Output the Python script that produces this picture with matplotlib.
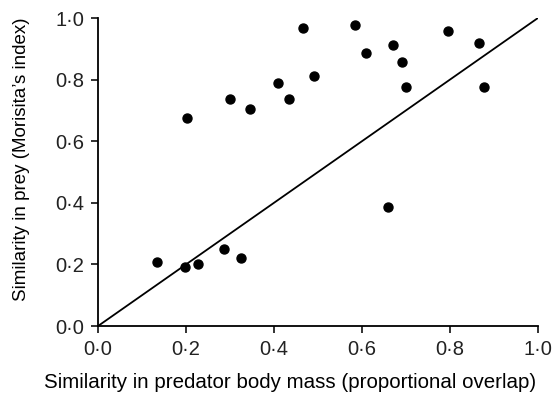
import matplotlib
matplotlib.use("Agg")
import matplotlib.pyplot as plt
from matplotlib.ticker import FuncFormatter

plt.rcParams['font.family'] = ['Liberation Sans', 'DejaVu Sans']

# predator body mass overlap vs prey similarity (Morisita)
body_mass = [0.133, 0.198, 0.227, 0.286, 0.324, 0.202, 0.300, 0.345, 0.410,
             0.434, 0.465, 0.492, 0.583, 0.608, 0.659, 0.671, 0.691, 0.699,
             0.796, 0.866, 0.877]
prey_sim = [0.209, 0.190, 0.200, 0.250, 0.220, 0.676, 0.737, 0.705, 0.788,
            0.736, 0.966, 0.813, 0.976, 0.885, 0.387, 0.912, 0.857, 0.777,
            0.959, 0.919, 0.777]
ticks = [0.0, 0.2, 0.4, 0.6, 0.8, 1.0]

fig = plt.figure(figsize=(5.54, 4.0), dpi=100)
ax = fig.add_axes([0.177, 0.185, 0.794, 0.77])

ax.plot([0, 1], [0, 1], color="black", lw=1.3, zorder=1)
ax.scatter(body_mass, prey_sim, s=42, color="black", zorder=2, clip_on=False)

ax.set_xlim(0, 1)
ax.set_ylim(0, 1)
ax.set_xticks(ticks)
ax.set_yticks(ticks)
fmt = FuncFormatter(lambda v, p: f"{v:.1f}".replace(".", "·"))
ax.xaxis.set_major_formatter(fmt)
ax.yaxis.set_major_formatter(fmt)

for s in ["top", "right"]:
    ax.spines[s].set_visible(False)
for s in ["left", "bottom"]:
    ax.spines[s].set_linewidth(1.3)
ax.tick_params(direction="out", length=5, width=1.3, labelsize=14.5, colors="#222222", pad=5)

# labels sit off-centre in the original
ax.set_xlabel("Similarity in predator body mass (proportional overlap)", fontsize=14.8,
              labelpad=10, x=0.436)
ax.set_ylabel("Similarity in prey (Morisita\u2019s index)", fontsize=13.5, labelpad=18, y=0.54)

fig.savefig("out.png", dpi=100)
